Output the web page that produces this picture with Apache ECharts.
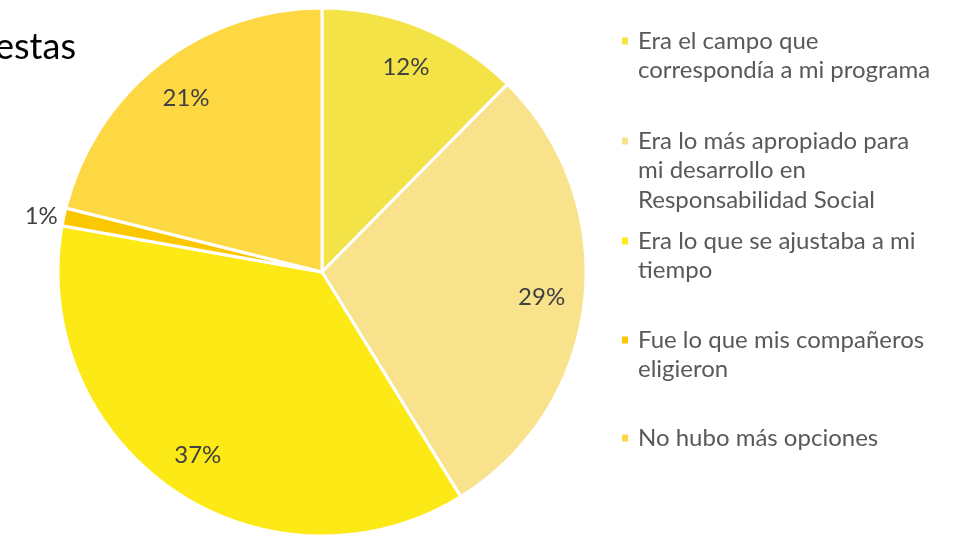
<!DOCTYPE html>
<html>
<head>
<meta charset="utf-8">
<script src="https://cdn.jsdelivr.net/npm/echarts@6/dist/echarts.min.js"></script>
<style>
  html, body { margin: 0; padding: 0; background: #fff; }
  #chart { width: 962px; height: 537px; }
</style>
</head>
<body>
<div id="chart"></div>
<script>
// razones de eleccion (porcentajes)
const categories = [
  'Era el campo que correspondía a mi programa',
  'Era lo más apropiado para mi desarrollo en Responsabilidad Social',
  'Era lo que se ajustaba a mi tiempo',
  'Fue lo que mis compañeros eligieron',
  'No hubo más opciones'
];
const legendLines = [
  ['Era el campo que', 'correspondía a mi programa'],
  ['Era lo más apropiado para', 'mi desarrollo en', 'Responsabilidad Social'],
  ['Era lo que se ajustaba a mi', 'tiempo'],
  ['Fue lo que mis compañeros', 'eligieron'],
  ['No hubo más opciones']
];
const values = [12.4, 28.8, 36.6, 1.1, 21.1];
const colors = ['#F4E346', '#F8E28C', '#FDE916', '#FBC800', '#FED843'];

const chart = echarts.init(document.getElementById('chart'));

const cx = 322, cy = 272, R = 264;
const lh = 29.5;
const legendCenters = [41, 141, 241, 340, 438];

// one legend per item; blank lines on top keep the marker on the first line
const legends = categories.map((name, i) => {
  const n = legendLines[i].length;
  const pad = new Array(n - 1).fill('').join('\n');
  return {
    data: [name],
    orient: 'vertical',
    left: 620,
    top: legendCenters[i] - lh * (2 * n - 1) / 2,
    padding: 0,
    icon: 'rect',
    itemWidth: 8,
    itemHeight: 9,
    selectedMode: false,
    formatter: () => (n > 1 ? pad + '\n' : '') + legendLines[i].join('\n'),
    textStyle: {
      fontFamily: 'Lato',
      fontSize: 24,
      color: '#595959',
      lineHeight: lh,
      padding: [0, 0, 0, 4]
    }
  };
});

chart.setOption({
  backgroundColor: '#fff',
  color: colors,
  graphic: [{
    type: 'text',
    x: 76,
    y: 47,
    style: {
      text: 'Respuestas',
      font: '36px Lato',
      fill: '#000',
      align: 'right',
      verticalAlign: 'middle'
    }
  }],
  legend: legends,
  series: [
    {
      name: 'Respuestas',
      type: 'pie',
      center: [cx, cy],
      radius: [0, R],
      startAngle: 90,
      clockwise: true,
      silent: true,
      label: { show: false },
      labelLine: { show: false },
      itemStyle: { borderColor: '#fff', borderWidth: 3 },
      data: categories.map((name, i) => ({ name: name, value: values[i] }))
    },
    {
      name: 'etiquetas',
      type: 'pie',
      center: [cx, cy],
      radius: [172, R],
      startAngle: 90,
      clockwise: true,
      silent: true,
      avoidLabelOverlap: false,
      itemStyle: { color: 'rgba(0,0,0,0)', borderWidth: 0 },
      label: {
        show: true,
        position: 'inside',
        formatter: p => Math.round(p.percent) + '%',
        fontFamily: 'Lato',
        fontSize: 24,
        color: '#404040'
      },
      labelLine: { show: false, length: 1, length2: 0 },
      data: categories.map((name, i) => {
        const item = { name: name, value: values[i] };
        if (values[i] < 3) {
          item.label = { position: 'outside' };
        }
        return item;
      })
    }
  ]
});
</script>
</body>
</html>
